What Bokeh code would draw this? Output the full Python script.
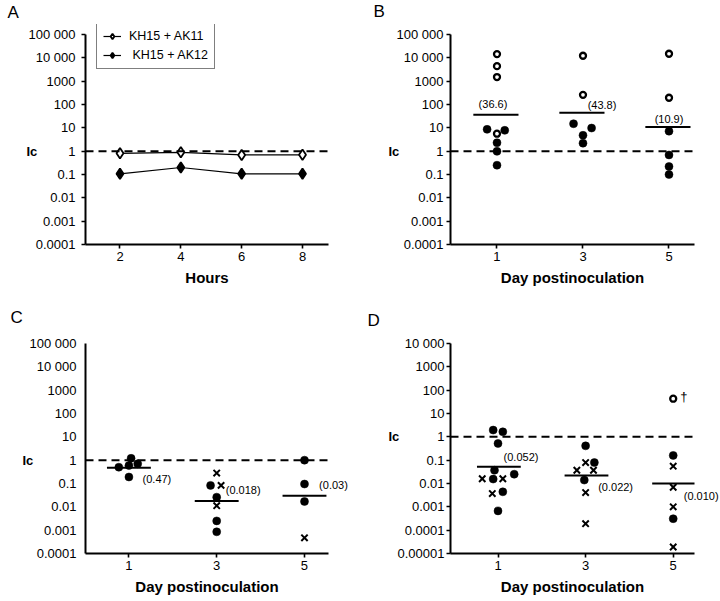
import numpy as np
from bokeh.plotting import figure
from bokeh.models import (Range1d, FixedTicker, CustomJSTickFormatter, Span, Label,
                          Legend, LegendItem)
from bokeh.layouts import column, row
from bokeh.embed import file_html
from bokeh.resources import INLINE

# ---------------- data ----------------
IC_LEVEL = 1.0
DAYS = [1, 3, 5]

Y_TICKS_ABC = [1e-4, 1e-3, 1e-2, 1e-1, 1, 10, 100, 1000, 1e4, 1e5]
Y_LABELS_ABC = ["0.0001", "0.001", "0.01", "0.1", "1", "10", "100", "1000", "10 000", "100 000"]
Y_TICKS_D = [1e-5, 1e-4, 1e-3, 1e-2, 1e-1, 1, 10, 100, 1000, 1e4]
Y_LABELS_D = ["0.00001", "0.0001", "0.001", "0.01", "0.1", "1", "10", "100", "1000", "10 000"]

# Panel A
A_HOURS = [2, 4, 6, 8]
A_AK11 = [0.81, 0.89, 0.69, 0.70]
A_AK12 = [0.107, 0.20, 0.107, 0.107]
A_NAMES = ["KH15 + AK11", " KH15 + AK12"]

# Panel B
B_OPEN_DAY = [1, 1, 1, 1, 3, 3, 5, 5]
B_OPEN_VAL = [14500, 4400, 1500, 5.6, 12300, 260, 15000, 195]
B_OPEN_JIT = [0, 0, 0, 0, 0, 0, 0, 0]
B_FILL_DAY = [1, 1, 1, 1, 1, 3, 3, 3, 3, 5, 5, 5, 5]
B_FILL_VAL = [8.6, 7.8, 2.3, 0.98, 0.25, 15.0, 9.8, 4.8, 2.2, 7.2, 0.69, 0.22, 0.10]
B_FILL_JIT = [-0.23, 0.18, 0, 0, 0, -0.22, 0.2, 0, 0, 0, 0, 0, 0]
B_MEAN = [36.6, 43.8, 10.9]
B_MEAN_TXT = ["(36.6)", "(43.8)", "(10.9)"]

# Panel C
C_FILL_DAY = [1, 1, 1, 1, 1, 3, 3, 3, 3, 5, 5, 5]
C_FILL_VAL = [0.50, 0.59, 0.70, 1.2, 0.19, 0.083, 0.026, 0.0025, 0.00085, 1.0, 0.095, 0.017]
C_FILL_JIT = [-0.23, 0, 0.2, 0.05, 0, -0.14, 0, 0, 0, 0, 0, 0]
C_X_DAY = [3, 3, 3, 5]
C_X_VAL = [0.28, 0.083, 0.0112, 0.00047]
C_X_JIT = [0, 0.1, 0, 0]
C_MEAN = [0.47, 0.018, 0.03]
C_MEAN_TXT = ["(0.47)", "(0.018)", "(0.03)"]

# Panel D
D_FILL_DAY = [1, 1, 1, 1, 1, 1, 1, 1, 3, 3, 3, 5, 5]
D_FILL_VAL = [1.95, 1.64, 0.52, 0.037, 0.025, 0.0155, 0.0044, 0.00067, 0.41, 0.079, 0.014, 0.16, 0.00031]
D_FILL_JIT = [-0.11, 0.11, 0, -0.08, 0.37, -0.11, 0.11, 0, 0, 0.2, -0.03, 0, 0]
D_X_DAY = [1, 1, 1, 3, 3, 3, 3, 3, 5, 5, 5, 5]
D_X_VAL = [0.016, 0.016, 0.0037, 0.079, 0.037, 0.037, 0.0041, 0.00019, 0.055, 0.0069, 0.001, 0.000019]
D_X_JIT = [-0.36, 0.11, -0.13, 0, -0.2, 0.18, 0, 0, 0, 0, 0, 0]
D_OPEN_DAY = [5]
D_OPEN_VAL = [43]
D_OPEN_JIT = [0]
D_OPEN_NOTE = "\u2020"
D_MEAN = [0.052, 0.022, 0.010]
D_MEAN_TXT = ["(0.052)", "(0.022)", "(0.010)"]

PANEL_LETTERS = ["A", "B", "C", "D"]
IC_TEXT = "Ic"
X_LABEL_A = "Hours"
X_LABEL_DAY = "Day postinoculation"

# ---------------- styling ----------------
FONT = "Liberation Sans"
TICK_FS = "13px"
AXLAB_FS = "15px"
MEAN_FS = "11px"
INK = "black"
TOP_EXT = 10 ** (5 + 10 / 23.33)   # room above the top tick for the legend box

FMT_CODE = """
let best = 0, bd = Infinity;
for (let i = 0; i < vals.length; i++) {
  const d = Math.abs(Math.log10(vals[i]) - Math.log10(tick));
  if (d < bd) { bd = d; best = i; }
}
return labels[best];
"""


class Panel:
    """Figure whose frame sits at a known pixel box (figure coords)."""

    def __init__(self, w, h, frame, xr, yr, ybounds=None):
        l, t, r, b = frame
        self.frame = frame
        self.xr = xr
        self.yr = yr
        self.p = figure(width=w, height=h, x_range=Range1d(*xr), y_range=Range1d(*yr),
                        y_axis_type="log", output_backend="svg", toolbar_location=None,
                        min_border_left=l, min_border_right=w - r,
                        min_border_top=t, min_border_bottom=h - b,
                        background_fill_color="white", border_fill_color="white",
                        outline_line_color=None)
        self.p.grid.visible = False
        if ybounds is not None:
            self.p.yaxis[0].bounds = ybounds

    def px_x(self, px):
        l, t, r, b = self.frame
        return self.xr[0] + (px - l) / (r - l) * (self.xr[1] - self.xr[0])

    def px_y(self, py):
        l, t, r, b = self.frame
        lo, hi = np.log10(self.yr[0]), np.log10(self.yr[1])
        return 10 ** (lo + (b - py) / (b - t) * (hi - lo))


def style_axes(P, xticks, xlabel, yticks, ylabels, ytick_out, ystand, xtick_out=4):
    p = P.p
    xa = p.xaxis[0]
    ya = p.yaxis[0]
    for ax in (xa, ya):
        ax.axis_line_width = 2
        ax.axis_line_color = INK
        ax.major_tick_line_width = 1.6
        ax.major_tick_line_color = INK
        ax.major_tick_in = 0
        ax.minor_tick_line_color = None
        ax.major_label_text_font = FONT
        ax.major_label_text_font_size = TICK_FS
        ax.major_label_text_color = INK
    xa.ticker = FixedTicker(ticks=xticks)
    xa.major_tick_out = xtick_out
    xa.major_label_standoff = 3
    xa.axis_label = xlabel
    xa.axis_label_text_font = FONT
    xa.axis_label_text_font_size = AXLAB_FS
    xa.axis_label_text_font_style = "bold"
    xa.axis_label_text_color = INK
    xa.axis_label_standoff = 5
    ya.ticker = FixedTicker(ticks=yticks)
    ya.formatter = CustomJSTickFormatter(args=dict(labels=ylabels, vals=yticks), code=FMT_CODE)
    ya.major_tick_out = ytick_out
    if ytick_out == 0:
        ya.major_tick_line_color = None
    ya.major_label_standoff = ystand


def add_common(P, letter, letter_xy, ic_x):
    p = P.p
    p.add_layout(Span(location=IC_LEVEL, dimension="width", line_color=INK,
                      line_width=2, line_dash="8 5"))
    p.add_layout(Label(x=P.px_x(ic_x), y=IC_LEVEL, text=IC_TEXT, text_color=INK,
                       text_font=FONT, text_font_size="13px", text_font_style="bold",
                       text_align="left", text_baseline="middle"), "left")
    lx, ly = letter_xy
    p.add_layout(Label(x=P.px_x(lx), y=P.px_y(ly), text=letter, text_color=INK,
                       text_font=FONT, text_font_size="17px",
                       text_align="left", text_baseline="middle"), "right")


def add_means(P, means, texts, offs, half=(0.5, 0.52), outside=()):
    p = P.p
    d = np.array(DAYS, dtype=float)
    p.segment(x0=d - half[0], y0=means, x1=d + half[1], y1=means,
              line_color=INK, line_width=2)
    for i, (day, m, t, (ox, oy)) in enumerate(zip(DAYS, means, texts, offs)):
        lab = Label(x=day, y=m, text=t, x_offset=ox, y_offset=oy, text_color=INK,
                    text_font=FONT, text_font_size=MEAN_FS,
                    text_align="center", text_baseline="middle")
        if i in outside:
            p.add_layout(lab, "above")
        else:
            p.add_layout(lab)


def filled(p, days, vals, jit):
    p.scatter(np.array(days) + np.array(jit), vals, marker="circle", size=8,
              fill_color=INK, line_color=INK, line_width=0.5)


def opened(p, days, vals, jit):
    p.scatter(np.array(days) + np.array(jit), vals, marker="circle", size=6,
              fill_color="white", line_color=INK, line_width=2.3)


def crosses(p, days, vals, jit):
    p.scatter(np.array(days) + np.array(jit), vals, marker="x", size=9,
              line_color=INK, line_width=2)


# Frames (figure pixel coords). Bokeh aligns frames across rows / columns,
# so frames share edges within a row (top/bottom) and a column (left/right).
# ---------------- Panel A ----------------
A = Panel(360, 300, (85, 24, 328, 244), (0.866, 8.855), (1e-4, TOP_EXT),
          ybounds=(1e-4, 1e5))
style_axes(A, A_HOURS, X_LABEL_A, Y_TICKS_ABC, Y_LABELS_ABC, 4, 6)
add_common(A, PANEL_LETTERS[0], (7, 12), 26)
pA = A.p
l1 = pA.line(A_HOURS, A_AK11, line_color=INK, line_width=1.2)
s1 = pA.scatter(A_HOURS, A_AK11, marker="diamond", size=10.5,
                fill_color="white", line_color=INK, line_width=1.8)
l2 = pA.line(A_HOURS, A_AK12, line_color=INK, line_width=1.2)
s2 = pA.scatter(A_HOURS, A_AK12, marker="diamond", size=10.5,
                fill_color=INK, line_color=INK, line_width=1.8)
leg = Legend(items=[LegendItem(label=A_NAMES[0], renderers=[l1, s1]),
                    LegendItem(label=A_NAMES[1], renderers=[l2, s2])],
             location=(11, 175), orientation="vertical",
             label_text_font=FONT, label_text_font_size="12.5px", label_text_color=INK,
             glyph_width=18, glyph_height=14, label_standoff=8,
             padding=6, spacing=5, margin=0,
             border_line_color=INK, border_line_width=1.2,
             background_fill_alpha=1.0)
pA.add_layout(leg)

# ---------------- Panel B ----------------
B = Panel(360, 300, (90, 24, 334, 244), (-0.081, 5.593), (1e-4, TOP_EXT),
          ybounds=(1e-4, 1e5))
style_axes(B, DAYS, X_LABEL_DAY, Y_TICKS_ABC, Y_LABELS_ABC, 4, 3)
add_common(B, PANEL_LETTERS[1], (13, 11), 28)
add_means(B, B_MEAN, B_MEAN_TXT, [(-4, 11), (19, 8), (0, 8)], half=(0.55, 0.5))
filled(B.p, B_FILL_DAY, B_FILL_VAL, B_FILL_JIT)
opened(B.p, B_OPEN_DAY, B_OPEN_VAL, B_OPEN_JIT)

# ---------------- Panel C ----------------
C = Panel(360, 300, (85, 43, 328, 253), (0.011, 5.547), (1e-4, 1e5))
style_axes(C, DAYS, X_LABEL_DAY, Y_TICKS_ABC, Y_LABELS_ABC, 0, 9)
add_common(C, PANEL_LETTERS[2], (10, 16.5), 22)
add_means(C, C_MEAN, C_MEAN_TXT, [(28, -11.6), (26.5, 10.7), (29, 11)],
          half=(0.5, 0.5), outside=(2,))
filled(C.p, C_FILL_DAY, C_FILL_VAL, C_FILL_JIT)
crosses(C.p, C_X_DAY, C_X_VAL, C_X_JIT)

# ---------------- Panel D ----------------
D = Panel(360, 300, (90, 43, 334, 253), (-0.0845, 5.486), (1e-5, 1e4))
style_axes(D, DAYS, X_LABEL_DAY, Y_TICKS_D, Y_LABELS_D, 4, 2)
add_common(D, PANEL_LETTERS[3], (7, 20), 28)
add_means(D, D_MEAN, D_MEAN_TXT, [(23, 9.3), (30, -11.7), (28, -12.7)],
          half=(0.48, 0.52), outside=(2,))
filled(D.p, D_FILL_DAY, D_FILL_VAL, D_FILL_JIT)
crosses(D.p, D_X_DAY, D_X_VAL, D_X_JIT)
opened(D.p, D_OPEN_DAY, D_OPEN_VAL, D_OPEN_JIT)
D.p.add_layout(Label(x=D_OPEN_DAY[0], y=D_OPEN_VAL[0], text=D_OPEN_NOTE, x_offset=7, y_offset=2,
                     text_color=INK, text_font=FONT, text_font_size="13px",
                     text_align="left", text_baseline="middle"))

layout = column(row(A.p, B.p, spacing=0), row(C.p, D.p, spacing=0), spacing=0)

with open("out.html", "w") as f:
    f.write(file_html(layout, INLINE))
